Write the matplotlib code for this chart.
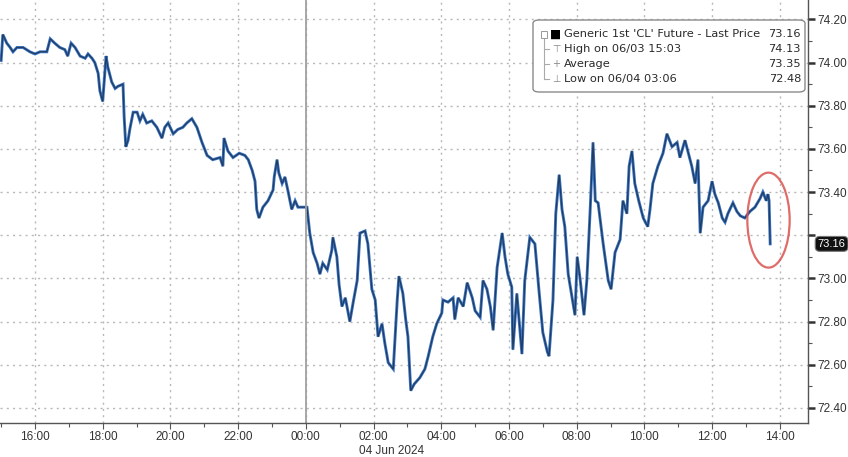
# CL1 front-month crude, intraday 03-04 Jun 2024 (Bloomberg-style chart)

import numpy as np
import pandas as pd
import matplotlib
matplotlib.use('Agg')
import matplotlib.pyplot as plt
import matplotlib.dates as mdates
from matplotlib.patches import Ellipse, FancyBboxPatch
from matplotlib.lines import Line2D

times = ['15:00', '15:03', '15:10', '15:16', '15:21', '15:28', '15:39', '15:51', '16:00', '16:09',
         '16:21', '16:27', '16:35', '16:44', '16:53', '16:58', '17:04', '17:11', '17:20', '17:29',
         '17:34', '17:41', '17:46', '17:52', '17:55', '18:00', '18:06', '18:09', '18:16', '18:22',
         '18:27', '18:36', '18:38', '18:41', '18:45', '18:48', '18:54', '19:01', '19:06', '19:11',
         '19:18', '19:27', '19:36', '19:45', '19:50', '19:56', '20:05', '20:13', '20:22', '20:29',
         '20:38', '20:47', '20:56', '21:05', '21:15', '21:28', '21:33', '21:35', '21:42', '21:51',
         '22:02', '22:12', '22:18', '22:25', '22:30', '22:33', '22:37', '22:44', '22:53', '23:02',
         '23:04', '23:09', '23:12', '23:18', '23:23', '23:28', '23:35', '23:41', '23:46', '23:55',
         '00:02', '00:07', '00:13', '00:20', '00:25', '00:30', '00:38', '00:46', '00:48', '00:55',
         '00:59', '01:04', '01:10', '01:18', '01:24', '01:31', '01:36', '01:45', '01:50', '01:57',
         '02:03', '02:08', '02:15', '02:20', '02:26', '02:35', '02:42', '02:45', '02:52', '02:57',
         '03:01', '03:06', '03:12', '03:22', '03:31', '03:37', '03:45', '03:52', '04:01', '04:03',
         '04:12', '04:21', '04:24', '04:30', '04:39', '04:46', '04:55', '05:00', '05:09', '05:14',
         '05:21', '05:27', '05:32', '05:39', '05:48', '05:53', '05:58', '06:05', '06:07', '06:14',
         '06:23', '06:28', '06:37', '06:46', '06:53', '07:00', '07:08', '07:11', '07:18', '07:23',
         '07:29', '07:34', '07:39', '07:45', '07:57', '08:01', '08:06', '08:13', '08:18', '08:24',
         '08:29', '08:33', '08:38', '08:47', '08:56', '09:01', '09:08', '09:17', '09:22', '09:29',
         '09:33', '09:38', '09:43', '09:50', '09:58', '10:06', '10:10', '10:15', '10:24', '10:33',
         '10:40', '10:49', '10:58', '11:03', '11:12', '11:17', '11:24', '11:30', '11:35', '11:39',
         '11:44', '11:53', '12:00', '12:05', '12:11', '12:18', '12:23', '12:28', '12:37', '12:44',
         '12:50', '12:58', '13:07', '13:16', '13:25', '13:30', '13:36', '13:39', '13:41', '13:43']

prices = [74.01, 74.13, 74.09, 74.07, 74.05, 74.07, 74.07, 74.05, 74.04, 74.05,
          74.05, 74.11, 74.09, 74.07, 74.06, 74.03, 74.09, 74.07, 74.03, 74.02,
          74.04, 74.02, 74.00, 73.95, 73.87, 73.82, 74.03, 73.98, 73.91, 73.88,
          73.89, 73.90, 73.75, 73.61, 73.64, 73.69, 73.77, 73.77, 73.73, 73.76,
          73.72, 73.73, 73.70, 73.65, 73.70, 73.72, 73.67, 73.69, 73.70, 73.72,
          73.74, 73.70, 73.63, 73.57, 73.55, 73.56, 73.52, 73.65, 73.59, 73.56,
          73.58, 73.57, 73.55, 73.50, 73.45, 73.32, 73.28, 73.33, 73.36, 73.41,
          73.47, 73.55, 73.49, 73.44, 73.47, 73.41, 73.32, 73.36, 73.33, 73.33,
          73.33, 73.21, 73.12, 73.07, 73.02, 73.07, 73.04, 73.13, 73.19, 73.10,
          72.97, 72.87, 72.91, 72.80, 72.89, 72.99, 73.21, 73.22, 73.16, 72.95,
          72.90, 72.73, 72.79, 72.70, 72.61, 72.58, 72.90, 73.01, 72.93, 72.81,
          72.73, 72.48, 72.51, 72.54, 72.58, 72.64, 72.73, 72.79, 72.84, 72.90,
          72.89, 72.91, 72.81, 72.91, 72.87, 72.98, 72.91, 72.85, 72.82, 72.99,
          72.95, 72.87, 72.76, 73.05, 73.21, 73.10, 73.02, 72.96, 72.67, 72.93,
          72.65, 72.99, 73.19, 73.16, 72.95, 72.75, 72.66, 72.64, 72.90, 73.30,
          73.48, 73.32, 73.24, 73.02, 72.83, 73.10, 73.00, 72.83, 72.99, 73.32,
          73.63, 73.36, 73.35, 73.16, 72.99, 72.95, 73.12, 73.18, 73.36, 73.30,
          73.52, 73.59, 73.44, 73.36, 73.28, 73.24, 73.32, 73.44, 73.52, 73.58,
          73.67, 73.61, 73.63, 73.56, 73.64, 73.59, 73.52, 73.44, 73.55, 73.21,
          73.33, 73.36, 73.45, 73.39, 73.35, 73.28, 73.26, 73.30, 73.35, 73.31,
          73.29, 73.28, 73.31, 73.33, 73.37, 73.40, 73.36, 73.39, 73.36, 73.16]

ytick_vals = [72.40, 72.60, 72.80, 73.00, 73.20, 73.40, 73.60, 73.80, 74.00, 74.20]
legend_rows = ["Generic 1st 'CL' Future - Last Price", 'High on 06/03 15:03', 'Average', 'Low on 06/04 03:06']
legend_vals = ['73.16', '74.13', '73.35', '72.48']
last_price = 73.16

# times before 15:00 belong to the next day
stamps = []
for t in times:
    hh = int(t[:2])
    day = '2024-06-03' if hh >= 15 else '2024-06-04'
    stamps.append(pd.Timestamp(day + ' ' + t))
series = pd.Series(prices, index=pd.DatetimeIndex(stamps))

axfont = 'Liberation Sans'

W, H = 848, 457
fig = plt.figure(figsize=(W / 100, H / 100), dpi=100)
ax = fig.add_axes([0, 1 - 423 / H, 808 / W, 423 / H])

ax.plot(series.index, series.values, color='#3a74c4', linewidth=2.1, solid_joinstyle='miter')
ax.plot(series.index, series.values, color='#101820', linewidth=0.9, alpha=0.6)

ax.set_xlim(pd.Timestamp('2024-06-03 14:58'), pd.Timestamp('2024-06-04 14:50'))
ax.set_ylim(72.33, 74.29)

ax.yaxis.tick_right()
ax.set_yticks(ytick_vals)
ax.set_yticks(np.arange(72.5, 74.3, 0.2), minor=True)
ax.yaxis.set_major_formatter('{x:.2f}')

ax.xaxis.set_major_locator(mdates.HourLocator(byhour=range(0, 24, 2)))
ax.xaxis.set_minor_locator(mdates.HourLocator())
ax.xaxis.set_major_formatter(mdates.DateFormatter('%H:%M'))

for s in ['left', 'top']:
    ax.spines[s].set_visible(False)
for s in ['right', 'bottom']:
    ax.spines[s].set_color('#555555')
    ax.spines[s].set_linewidth(1.0)

ax.tick_params(axis='y', which='major', direction='out', length=5, width=1.8, color='#333333',
               labelsize=8.5, labelcolor='#333333', pad=1.5)
ax.tick_params(axis='y', which='minor', direction='out', length=3, width=0.8, color='#555555')
ax.tick_params(axis='x', which='major', direction='out', length=4, width=0.8, color='#555555',
               labelsize=8.5, labelcolor='#333333', pad=1.5)
ax.tick_params(axis='x', which='minor', direction='out', length=3, width=0.8, color='#555555')
for lab in ax.get_xticklabels() + ax.get_yticklabels():
    lab.set_family(axfont)
# the 73.20 label sits under the last price tag
ax.get_yticklabels()[4].set_visible(False)

ax.grid(which='major', color='#b8b8b8', linestyle=(0, (1.5, 3)), linewidth=1.0)
ax.axvline(pd.Timestamp('2024-06-04 00:00'), color='#a0a0a0', linewidth=1.3)

ax.text(pd.Timestamp('2024-06-04 02:32'), -0.066, '04 Jun 2024', transform=ax.get_xaxis_transform(),
        ha='center', va='center', fontsize=8.5, color='#333333', family=axfont)

# last price tag on the axis
ax.text(1.012, last_price, '73.16', transform=ax.get_yaxis_transform(), ha='left', va='center',
        fontsize=8, color='white', family=axfont, zorder=10, clip_on=False,
        bbox=dict(boxstyle='round,pad=0.22,rounding_size=0.4', fc='#111111', ec='#777777', lw=0.8))

# red circle round the last move
mid = mdates.date2num(pd.Timestamp('2024-06-04 13:40'))
ax.add_patch(Ellipse((mid, 73.27), width=1.25 / 24, height=0.44, fill=False,
                     edgecolor='#d9534f', linewidth=1.6, alpha=0.85, zorder=6))

# legend box
def fx(px):
    return px / 808

def fy(py):
    return 1 - py / 423

ax.add_patch(FancyBboxPatch((fx(533), fy(92)), fx(805) - fx(533), fy(20) - fy(92),
                            boxstyle='round,pad=0,rounding_size=0.008', transform=ax.transAxes,
                            fc='white', ec='#8a8a8a', lw=1.0, zorder=7))
rows_y = [34, 49, 64, 79]
syms = ['\u25a0', '\u22a4', '+', '\u22a5']
for i in range(4):
    ax.text(fx(564), fy(rows_y[i]), legend_rows[i], transform=ax.transAxes, ha='left', va='center',
            fontsize=8.2, color='#2a2a2a', zorder=8)
    ax.text(fx(801), fy(rows_y[i]), legend_vals[i], transform=ax.transAxes, ha='right', va='center',
            fontsize=8.2, color='#2a2a2a', zorder=8)
    ax.text(fx(556), fy(rows_y[i]), syms[i], transform=ax.transAxes, ha='center', va='center',
            fontsize=8.5 if i == 0 else 7, color='black' if i == 0 else '#888888', zorder=8)
ax.add_line(Line2D([fx(544), fx(544)], [fy(37), fy(79)], transform=ax.transAxes,
                   color='#aaaaaa', lw=0.8, zorder=8))
for yy in rows_y[1:]:
    ax.add_line(Line2D([fx(544), fx(549)], [fy(yy), fy(yy)], transform=ax.transAxes,
                       color='#aaaaaa', lw=0.8, zorder=8))
ax.add_patch(FancyBboxPatch((fx(541), fy(38)), fx(547) - fx(541), fy(31) - fy(38),
                            boxstyle='square,pad=0', transform=ax.transAxes,
                            fc='white', ec='#999999', lw=0.7, zorder=8))

fig.savefig('out.png', dpi=100)
